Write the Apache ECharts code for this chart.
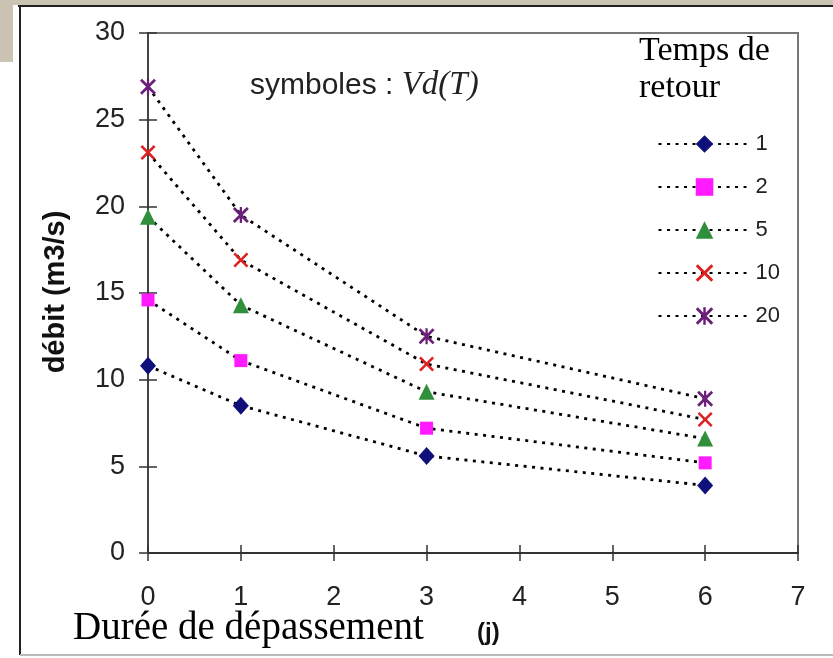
<!DOCTYPE html>
<html>
<head>
<meta charset="utf-8">
<script src="https://cdn.jsdelivr.net/npm/echarts@6/dist/echarts.min.js"></script>
<style>
  html, body { margin: 0; padding: 0; background: #fff; }
  #main { width: 833px; height: 658px; }
</style>
</head>
<body>
<div id="main"></div>
<script>
// durée de dépassement (j)
var durees = [0, 1, 3, 6];
// temps de retour
var periodes = ['1', '2', '5', '10', '20'];
// débit (m3/s) pour chaque temps de retour
var debitT1 = [10.8, 8.5, 5.6, 3.9];
var debitT2 = [14.6, 11.1, 7.2, 5.2];
var debitT5 = [19.4, 14.3, 9.3, 6.6];
var debitT10 = [23.1, 16.9, 10.9, 7.7];
var debitT20 = [26.9, 19.5, 12.5, 8.9];
var xTicks = [0, 7, 1];
var yTicks = [0, 30, 5];

var CROIX = 'M0,1.2L1.2,0L5,3.8L8.8,0L10,1.2L6.2,5L10,8.8L8.8,10L5,6.2L1.2,10L0,8.8L3.8,5Z';
var symboles = ['diamond', 'rect', 'triangle', 'path://' + CROIX, 'path://' + CROIX + 'M4.3,0L5.7,0L5.7,10L4.3,10Z'];
var couleurs = ['#10107a', '#ff1aff', '#2f8f3a', '#e02020', '#6a1f78'];
var tailles = [[16, 18], 13, 16, 15, 16];
var valeurs = [debitT1, debitT2, debitT5, debitT10, debitT20];

var chart = echarts.init(document.getElementById('main'));

var series = periodes.map(function (p, k) {
  return {
    name: p,
    type: 'line',
    data: durees.map(function (d, i) { return [d, valeurs[k][i]]; }),
    symbol: symboles[k],
    symbolSize: tailles[k],
    showAllSymbol: true,
    itemStyle: { color: couleurs[k], borderWidth: 0 },
    lineStyle: { color: '#000', width: 2.8, type: [3, 5.5] },
    emphasis: { disabled: true },
    animation: false
  };
});

var axeX = {
  type: 'value', min: xTicks[0], max: xTicks[1], interval: xTicks[2],
  axisLine: { lineStyle: { color: '#333', width: 2 } },
  axisTick: { length: 8, lineStyle: { color: '#333', width: 1.5 } },
  axisLabel: { margin: 31, color: '#222', fontSize: 27, fontFamily: 'Liberation Sans' },
  splitLine: { show: false }
};
var axeY = {
  type: 'value', min: yTicks[0], max: yTicks[1], interval: yTicks[2],
  axisLine: { show: true, lineStyle: { color: '#333', width: 1.5 } },
  axisTick: { show: true, length: 9, lineStyle: { color: '#333', width: 1.5 } },
  axisLabel: { margin: 23, color: '#222', fontSize: 27, fontFamily: 'Liberation Sans' },
  splitLine: { show: false }
};

chart.setOption({
  backgroundColor: '#fff',
  animation: false,
  grid: {
    left: 148, right: 35, top: 33, bottom: 105,
    show: true, borderColor: '#777', borderWidth: 2, backgroundColor: 'transparent'
  },
  xAxis: [axeX, {
    type: 'value', min: xTicks[0], max: xTicks[1], interval: xTicks[2], position: 'bottom',
    axisLine: { show: false }, axisLabel: { show: false }, splitLine: { show: false },
    axisTick: { inside: true, length: 8, lineStyle: { color: '#333', width: 1.5 } }
  }],
  yAxis: [axeY, {
    type: 'value', min: yTicks[0], max: yTicks[1], interval: yTicks[2], position: 'left',
    axisLine: { show: false }, axisLabel: { show: false }, splitLine: { show: false },
    axisTick: { show: true, inside: true, length: 9, lineStyle: { color: '#333', width: 1.5 } }
  }],
  legend: {
    orient: 'vertical', right: 48, top: 128,
    itemWidth: 92, itemHeight: 22, itemGap: 21,
    data: periodes,
    textStyle: { fontSize: 22, color: '#222', fontFamily: 'Liberation Sans' }
  },
  graphic: [
    { type: 'rect', shape: { x: 0, y: 0, width: 833, height: 5 }, style: { fill: '#cbc3b3' } },
    { type: 'rect', shape: { x: 0, y: 0, width: 13, height: 62 }, style: { fill: '#cbc3b3' } },
    { type: 'line', shape: { x1: 18, y1: 6, x2: 833, y2: 6 }, style: { stroke: '#222', lineWidth: 2 } },
    { type: 'line', shape: { x1: 20, y1: 6, x2: 20, y2: 655 }, style: { stroke: '#222', lineWidth: 2 } },
    { type: 'line', shape: { x1: 20, y1: 655, x2: 833, y2: 655 }, style: { stroke: '#bbb', lineWidth: 2 } },
    { type: 'text', left: 639, top: 33, style: {
        text: 'Temps de\nretour', font: '34px "Liberation Serif"', fill: '#000', lineHeight: 37 } },
    { type: 'text', left: 250, top: 69, style: {
        text: '{a|symboles : }{b|Vd(T)}',
        rich: {
          a: { fontSize: 30, fontFamily: 'Liberation Sans', fill: '#222' },
          b: { fontSize: 33, fontFamily: 'Liberation Serif', fontStyle: 'italic', fill: '#222' }
        } } },
    { type: 'text', left: 73, top: 609, style: {
        text: 'Durée de dépassement', font: '39px "Liberation Serif"', fill: '#000' } },
    { type: 'text', left: 477, top: 621, style: {
        text: '(j)', font: 'bold 24px "Liberation Sans"', fill: '#111' } },
    { type: 'text', x: 56, y: 292, rotation: Math.PI / 2, style: {
        text: 'débit (m3/s)', font: 'bold 29px "Liberation Sans"', fill: '#111',
        align: 'center', verticalAlign: 'middle' } }
  ],
  series: series
});
</script>
</body>
